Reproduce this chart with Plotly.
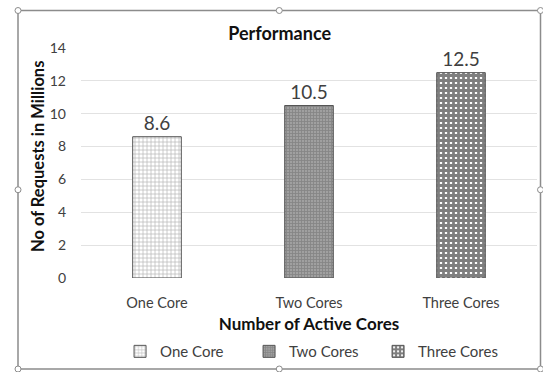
import plotly.graph_objects as go

categories = ["One Core", "Two Cores", "Three Cores"]
requests_millions = [8.6, 10.5, 12.5]
y_ticks = [0, 2, 4, 6, 8, 10, 12, 14]

# fill styles for each series
patterns = [
    dict(shape="+", fgcolor="#7a7a7a", bgcolor="white", size=4, solidity=0.35),
    dict(shape="+", fgcolor="#6a6a6a", bgcolor="#a0a0a0", size=3, solidity=0.5),
    dict(shape="+", fgcolor="#000000", bgcolor="white", size=5, solidity=0.8),
]

FONT = "Lato, 'Open Sans', sans-serif"

fig = go.Figure()
for cat, val, pat in zip(categories, requests_millions, patterns):
    fig.add_trace(go.Bar(
        x=[cat], y=[val], name=cat, width=0.32,
        marker=dict(color="white", pattern=pat,
                    line=dict(color="#555555", width=1)),
        text=[f"{val:g}"], textposition="outside",
        textfont=dict(size=19, color="#404040", family=FONT),
        cliponaxis=False,
    ))

W, H = 543, 372
fig.update_layout(
    width=W, height=H, autosize=False,
    margin=dict(l=81, r=6, t=48, b=94, autoexpand=False),
    paper_bgcolor="white", plot_bgcolor="white",
    barmode="overlay",
    font=dict(family=FONT, color="#595959"),
    showlegend=True,
    legend=dict(orientation="h", x=0.51, xanchor="center", y=-0.32, yanchor="middle",
                font=dict(size=15, color="#404040", family=FONT),
                bgcolor="rgba(0,0,0,0)",
                itemwidth=30, entrywidth=84, entrywidthmode="pixels",
                traceorder="normal"),
    title=dict(text="<b>Performance</b>", x=0.515, xanchor="center", y=0.91, yanchor="middle",
               font=dict(size=18, color="#111111", family=FONT)),
    xaxis=dict(showgrid=False, showline=False, ticks="", automargin=False,
               tickfont=dict(size=14.5, color="#404040"), ticklabelstandoff=14,
               title=dict(text="<b>Number of Active Cores</b>", standoff=8,
                          font=dict(size=17, color="#111111"))),
    yaxis=dict(range=[0, 14], tickvals=y_ticks, showline=False, zeroline=False,
               automargin=False, gridcolor="#e2e2e2", gridwidth=1,
               tickfont=dict(size=14, color="#404040"), ticklabelstandoff=14),
)

fig.add_annotation(text="<b>No of Requests in Millions</b>", textangle=-90,
                   xref="paper", yref="paper", x=(38 - 81) / 456, y=0.526,
                   xanchor="center", yanchor="middle", showarrow=False,
                   font=dict(size=16.5, color="#111111", family=FONT))

# outer chart frame with selection handles
def px_x(p):
    return (p - 81) / 456

def px_y(p):
    return (278 - p) / 230

fx0, fx1, fy0, fy1 = 18, 540.5, 10.5, 369
fig.add_shape(type="rect", xref="paper", yref="paper",
              x0=px_x(fx0), x1=px_x(fx1), y0=px_y(fy1), y1=px_y(fy0),
              line=dict(color="#8c8c8c", width=1.5), layer="below")
mx, my = (fx0 + fx1) / 2, (fy0 + fy1) / 2
for hx, hy in [(fx0, fy0), (mx, fy0), (fx1, fy0), (fx0, my), (fx1, my),
               (fx0, fy1), (mx, fy1), (fx1, fy1)]:
    r = 3
    fig.add_shape(type="circle", xref="paper", yref="paper",
                  x0=px_x(hx - r), x1=px_x(hx + r), y0=px_y(hy + r), y1=px_y(hy - r),
                  line=dict(color="#8c8c8c", width=1), fillcolor="white")

fig.write_html("out.html")
